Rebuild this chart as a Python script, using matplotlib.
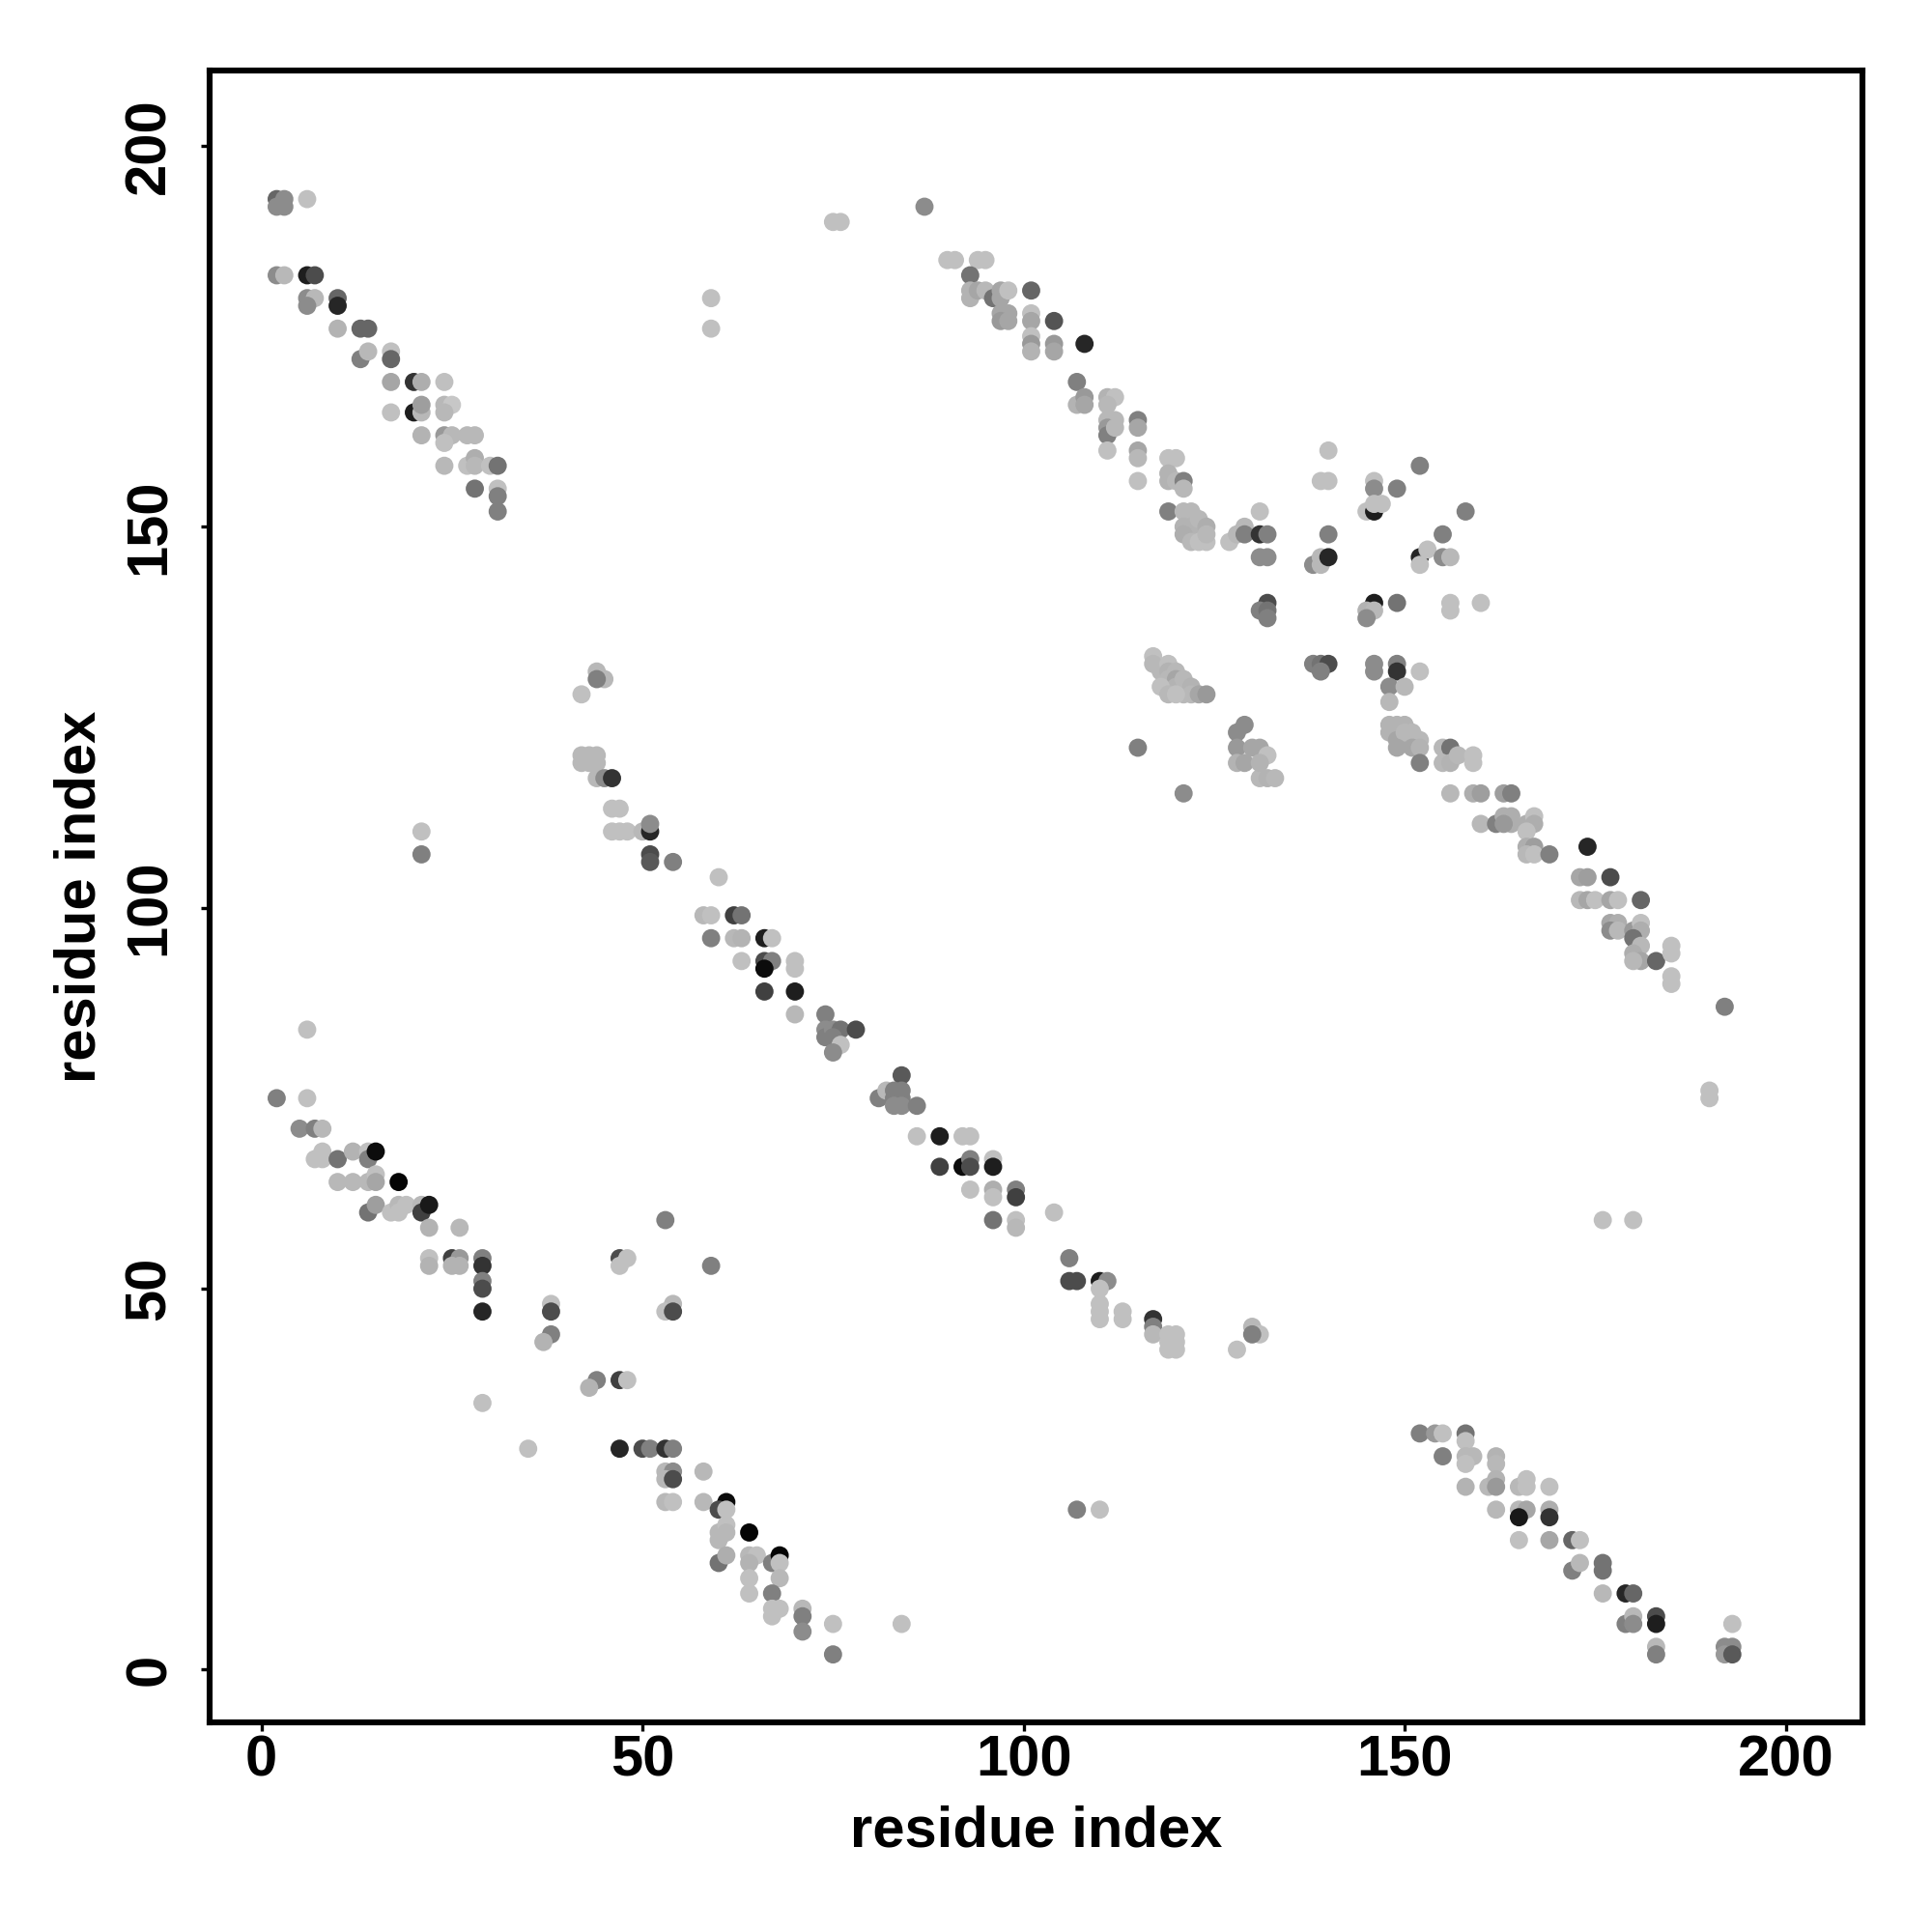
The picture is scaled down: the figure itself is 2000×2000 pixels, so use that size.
import matplotlib
matplotlib.use("Agg")
import matplotlib.pyplot as plt
import numpy as np

# contacts as (residue i, residue j, grey level 0=black .. 1=white), grouped by band
band_top_left = [
    (2, 193, .4), (3, 193, .55), (2, 192, .55), (3, 192, .55), (6, 193, .75),
    (2, 183, .55), (3, 183, .72), (6, 183, .12), (7, 183, .3),
    (6, 180, .55), (7, 180, .72), (6, 179, .55), (10, 180, .4), (10, 179, .15),
    (10, 176, .7), (13, 176, .4), (14, 176, .4), (13, 172, .5), (14, 173, .72),
    (17, 173, .75), (17, 172, .4), (17, 169, .65), (20, 169, .2), (21, 169, .68), (24, 169, .75),
    (17, 165, .75), (20, 165, .12), (21, 165, .72), (21, 166, .62),
    (24, 166, .72), (25, 166, .78), (24, 165, .72),
    (21, 162, .7), (24, 162, .6), (25, 162, .72), (24, 161, .75), (27, 162, .72), (28, 162, .72),
    (24, 158, .72), (27, 158, .75), (28, 159, .68), (28, 158, .72), (30, 158, .75), (31, 158, .45),
    (28, 155, .45), (31, 155, .75), (31, 154, .5), (31, 152, .5),
    (59, 180, .75), (59, 176, .75), (75, 190, .75), (76, 190, .75),
]

band_top_right = [
    (87, 192, .55), (90, 185, .75), (91, 185, .75), (94, 185, .75), (95, 185, .75), (93, 183, .45),
    (93, 181, .7), (93, 180, .7), (94, 181, .65), (95, 181, .72), (96, 180, .45), (97, 181, .65),
    (97, 180, .65), (98, 181, .75), (101, 181, .4),
    (97, 178, .65), (98, 178, .65), (97, 177, .6), (98, 177, .65), (101, 178, .75), (101, 177, .65),
    (104, 177, .33), (101, 175, .75), (101, 174, .6), (101, 173, .7), (104, 174, .6), (104, 173, .65),
    (108, 174, .15), (107, 169, .5), (107, 166, .7), (108, 167, .6), (108, 166, .65),
    (111, 167, .7), (112, 167, .75), (111, 166, .72),
    (111, 164, .72), (112, 164, .72), (111, 163, .6), (111, 162, .5), (112, 163, .72), (111, 160, .75),
    (115, 164, .5), (115, 163, .65), (115, 160, .65), (115, 159, .72), (115, 156, .75),
    (119, 159, .75), (120, 159, .75), (119, 157, .7), (119, 156, .7), (120, 156, .72),
    (121, 156, .5), (121, 155, .72), (119, 152, .5),
    (121, 152, .72), (122, 152, .72), (121, 150, .7), (122, 150, .7), (121, 149, .68), (122, 148, .72),
    (123, 151, .72), (124, 150, .68), (123, 148, .75), (124, 148, .75), (124, 149, .72),
]

band_centre = [
    (140, 160, .75), (139, 156, .75), (140, 156, .75), (152, 158, .5), (146, 156, .75), (146, 155, .55),
    (149, 155, .5), (145, 152, .75), (146, 152, .12), (146, 153, .75), (147, 153, .75), (158, 152, .5),
    (131, 152, .75), (127, 148, .75), (128, 149, .72), (129, 150, .72), (129, 149, .5),
    (131, 149, .2), (132, 149, .5), (131, 146, .55), (132, 146, .55), (140, 149, .5),
    (138, 145, .55), (139, 146, .72), (139, 145, .72), (140, 146, .15), (155, 149, .5),
    (152, 146, .15), (152, 145, .75), (153, 147, .75), (155, 146, .55), (156, 146, .72),
    (132, 140, .3), (131, 139, .5), (132, 139, .45), (132, 138, .5),
    (146, 140, .12), (145, 139, .7), (146, 139, .72), (145, 138, .55), (149, 140, .45),
    (156, 140, .75), (156, 139, .75), (160, 140, .75),
    (138, 132, .5), (139, 132, .45), (140, 132, .3), (139, 131, .5), (146, 132, .55), (146, 131, .55),
    (149, 132, .5), (149, 131, .2), (148, 129, .55), (150, 129, .72), (148, 127, .72), (152, 131, .75),
    (117, 133, .75), (117, 132, .72), (118, 131, .72), (119, 132, .75), (119, 131, .7), (119, 130, .72),
    (120, 131, .72), (120, 130, .65), (120, 129, .7), (121, 130, .72), (121, 128, .72), (122, 129, .7),
    (122, 128, .72), (123, 128, .65), (124, 128, .6), (118, 129, .75), (119, 128, .72), (120, 128, .75),
    (128, 123, .55), (129, 124, .55), (128, 121, .6), (128, 119, .7), (130, 121, .65), (131, 121, .65),
    (132, 120, .75), (131, 117, .72), (132, 117, .7), (133, 117, .72), (129, 119, .65), (131, 119, .7),
    (148, 124, .7), (149, 124, .7), (150, 124, .7), (148, 123, .7), (149, 122, .65), (150, 123, .72),
    (151, 123, .72), (152, 122, .72), (149, 121, .65), (151, 121, .65), (152, 121, .7), (152, 119, .5),
    (115, 121, .5), (121, 115, .55),
]

band_right = [
    (155, 121, .72), (156, 121, .45), (155, 119, .72), (156, 119, .7), (157, 120, .72),
    (159, 120, .75), (159, 119, .75),
    (156, 115, .72), (159, 115, .68), (160, 115, .62), (163, 115, .62), (164, 115, .5),
    (160, 111, .72), (162, 111, .5), (163, 112, .68), (164, 112, .68), (164, 111, .68), (163, 111, .6),
    (166, 111, .68), (167, 112, .75), (167, 111, .68), (166, 110, .75),
    (166, 108, .68), (167, 108, .62), (166, 107, .72), (167, 107, .75), (169, 107, .5), (174, 108, .15),
    (173, 104, .65), (174, 104, .62), (177, 104, .3),
    (173, 101, .72), (174, 101, .65), (175, 101, .75), (177, 101, .65), (178, 101, .75), (181, 101, .4),
    (177, 98, .65), (178, 98, .68), (177, 97, .55), (178, 97, .72), (180, 97, .6), (181, 98, .75),
    (181, 97, .68), (180, 96, .45), (181, 95, .72), (180, 94, .68), (181, 93, .65), (180, 93, .72),
    (183, 93, .4), (185, 95, .75), (185, 94, .75), (185, 91, .75), (185, 90, .75), (192, 87, .5),
    (190, 76, .75), (190, 75, .75), (176, 59, .75), (180, 59, .75),
]

band_middle = [
    (44, 131, .72), (45, 130, .72), (44, 130, .5), (42, 128, .75),
    (42, 120, .72), (43, 120, .72), (44, 120, .72), (42, 119, .72), (43, 119, .72), (44, 119, .72),
    (44, 117, .72), (45, 117, .55), (46, 117, .2), (46, 113, .75), (47, 113, .75),
    (46, 110, .75), (47, 110, .75), (48, 110, .75), (50, 110, .72), (51, 110, .15), (51, 111, .55),
    (51, 107, .3), (51, 106, .35), (54, 106, .5), (60, 104, .75),
    (58, 99, .72), (59, 99, .75), (62, 99, .25), (63, 99, .45),
    (59, 96, .5), (62, 96, .72), (63, 96, .7), (66, 96, .12), (67, 96, .75),
    (63, 93, .75), (66, 93, .3), (67, 93, .5), (66, 92, .05), (70, 93, .75), (70, 92, .75),
    (66, 89, .25), (70, 89, .12), (70, 86, .72), (74, 86, .5),
    (74, 84, .55), (74, 83, .5), (75, 84, .55), (76, 84, .45), (75, 83, .5), (76, 82, .75),
    (78, 84, .3), (75, 81, .55), (21, 110, .75), (21, 107, .5),
    (84, 78, .35), (81, 75, .5), (82, 76, .72), (83, 76, .5), (84, 76, .5), (83, 75, .5), (84, 75, .5),
    (83, 74, .55), (84, 74, .55), (86, 74, .5),
    (86, 70, .75), (89, 70, .12), (92, 70, .75), (93, 70, .75),
    (89, 66, .25), (92, 66, .05), (93, 67, .5), (93, 66, .3), (96, 67, .75), (96, 66, .12),
    (93, 63, .75), (96, 63, .68), (96, 62, .75), (99, 63, .5), (99, 62, .25),
    (96, 59, .45), (99, 59, .75), (99, 58, .72), (104, 60, .75), (106, 54, .5),
    (106, 51, .3), (107, 51, .3), (110, 51, .12), (111, 51, .55),
    (110, 50, .75), (110, 48, .75), (110, 47, .75), (110, 46, .75), (113, 47, .75), (113, 46, .75),
    (117, 46, .2), (117, 45, .5), (117, 44, .72),
    (119, 44, .75), (120, 44, .75), (119, 43, .75), (120, 43, .75), (119, 42, .75), (120, 42, .75),
    (130, 45, .72), (131, 44, .75), (130, 44, .5), (128, 42, .75), (107, 21, .5), (110, 21, .75),
]

band_bottom_left = [
    (6, 84, .75), (2, 75, .5), (6, 75, .75), (5, 71, .55), (7, 71, .5), (8, 71, .72),
    (7, 67, .75), (8, 68, .75), (8, 67, .75), (10, 67, .45), (12, 68, .7), (14, 68, .75),
    (14, 67, .5), (15, 68, .05),
    (10, 64, .72), (12, 64, .72), (14, 64, .72), (15, 65, .75), (15, 64, .65), (18, 64, .02),
    (14, 60, .45), (15, 61, .62), (17, 60, .75), (18, 61, .72), (18, 60, .75), (19, 61, .75),
    (21, 61, .72), (21, 60, .25), (22, 61, .1), (22, 58, .7), (26, 58, .72),
    (22, 54, .75), (22, 53, .7), (25, 54, .25), (26, 54, .6), (25, 53, .7), (26, 53, .7),
    (29, 54, .5), (29, 53, .2), (29, 51, .5), (29, 50, .3), (29, 47, .15),
    (53, 59, .5), (47, 54, .3), (48, 54, .75), (47, 53, .75), (59, 53, .5),
    (38, 48, .75), (38, 47, .3), (54, 48, .72), (53, 47, .75), (54, 47, .3),
    (38, 44, .5), (37, 43, .7), (44, 38, .5), (43, 37, .7), (47, 38, .25), (48, 38, .75),
    (29, 35, .75), (35, 29, .75),
    (47, 29, .15), (50, 29, .3), (51, 29, .5), (53, 29, .2), (54, 29, .5),
    (53, 26, .72), (54, 26, .55), (53, 25, .72), (54, 25, .3), (58, 26, .72),
    (53, 22, .72), (54, 22, .75), (58, 22, .72), (61, 22, .05), (60, 21, .3), (61, 21, .75),
    (60, 18, .72), (61, 19, .75), (61, 18, .72), (60, 17, .72), (64, 18, .02),
    (60, 14, .45), (61, 15, .68), (64, 15, .72), (65, 15, .75), (64, 14, .7), (64, 12, .75),
    (64, 10, .75), (67, 14, .5), (68, 15, .02), (68, 14, .75), (68, 12, .72),
    (67, 10, .5), (67, 8, .75), (68, 8, .75), (67, 7, .75),
    (71, 8, .72), (71, 7, .5), (71, 5, .55), (75, 6, .75), (75, 2, .5), (84, 6, .75),
]

band_bottom_right = [
    (152, 31, .5), (154, 31, .6), (155, 31, .75), (158, 31, .45), (158, 30, .75),
    (155, 28, .5), (158, 28, .72), (159, 28, .72), (158, 27, .75), (162, 28, .7), (162, 27, .72),
    (158, 24, .7), (161, 24, .72), (162, 25, .7), (162, 24, .6),
    (165, 24, .72), (166, 25, .75), (166, 24, .75), (169, 24, .75),
    (162, 21, .72), (165, 21, .72), (166, 21, .65), (165, 20, .1), (169, 21, .68), (169, 20, .2),
    (165, 17, .75), (169, 17, .65), (172, 17, .4), (173, 17, .75), (172, 13, .5), (173, 14, .72),
    (176, 14, .45), (176, 13, .45), (176, 10, .72), (179, 10, .15), (180, 10, .4),
    (179, 6, .5), (180, 7, .72), (180, 6, .55), (183, 7, .3), (183, 6, .12),
    (183, 3, .72), (183, 2, .5), (193, 6, .75),
    (192, 3, .55), (193, 3, .55), (192, 2, .6), (193, 2, .35),
]

ticks = [0, 50, 100, 150, 200]

contacts = np.array(band_top_left + band_top_right + band_centre + band_right
                    + band_middle + band_bottom_left + band_bottom_right)
res_i, res_j, shade = contacts[:, 0], contacts[:, 1], contacts[:, 2]

plt.rcParams['font.family'] = ['Liberation Sans', 'DejaVu Sans']
plt.rcParams['font.weight'] = 'bold'

fig = plt.figure(figsize=(10, 10), dpi=200)
ax = fig.add_axes([0.1083, 0.1083, 0.8558, 0.8553])
ax.scatter(res_i, res_j, s=46, c=shade, cmap='gray', vmin=0, vmax=1, linewidths=0)

ax.set_xlim(-6.85, 210.1)
ax.set_ylim(-6.97, 209.9)
ax.set_xticks(ticks)
ax.set_yticks(ticks)
for sp in ax.spines.values():
    sp.set_linewidth(2.2)
ax.tick_params(length=3.2, width=1.2, labelsize=21.5)
ax.tick_params(axis='x', pad=1)
ax.tick_params(axis='y', pad=9)
for lab in ax.get_yticklabels():
    lab.set_rotation(90)
    lab.set_va('center')

ax.set_xlabel('residue index', fontsize=21.5, fontweight='bold')
ax.set_ylabel('residue index', fontsize=21.5, fontweight='bold')
ax.xaxis.set_label_coords(0.5, -0.05)
ax.yaxis.set_label_coords(-0.062, 0.5)

fig.savefig('out.png', dpi=200, facecolor='white')
